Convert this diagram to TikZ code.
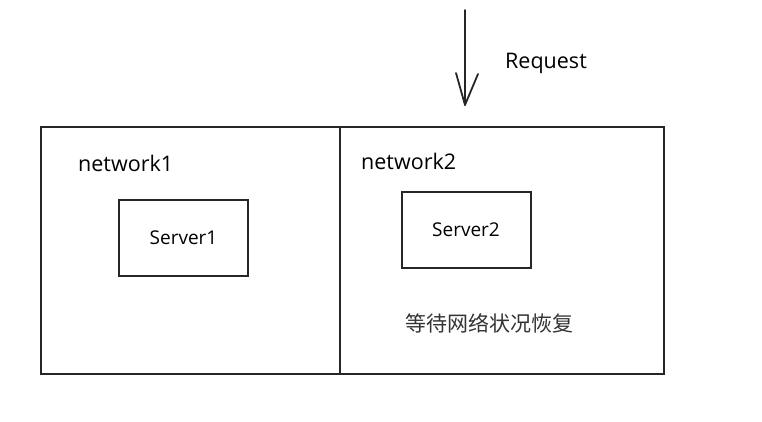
\documentclass[tikz,border=0pt]{standalone}
\usepackage{fontspec}
\setmainfont{Open Sans}
\newfontfamily\cjk{Noto Sans CJK SC}
\begin{document}
\begin{tikzpicture}[x=1pt,y=-1pt,
  net/.style={draw=black!85, line width=2pt},
  srv/.style={draw=black!85, line width=2pt, minimum width=129pt, minimum height=76pt, inner sep=0pt, font=\fontsize{19}{21}\selectfont},
  lbl/.style={font=\fontsize{21.5}{24}\selectfont, inner sep=0pt, anchor=west},
  arr/.style={line width=1.8pt, draw=black!85, line cap=round, line join=round}]
\useasboundingbox (0,0) rectangle (762,422);
\node[net, minimum width=299pt, minimum height=247pt, inner sep=0pt] (n1) at (190.5,250.5) {};
\node[net, minimum width=324pt, minimum height=246pt, inner sep=0pt] (n2) at (502,250.5) {};
\node[lbl] (l1) at (78,163) {network1};
\node[lbl] (l2) at (361,161) {network2};
\node[srv] (s1) at (183.5,238) {Server1};
\node[srv] (s2) at (466,229.5) {Server2};
\node[font=\cjk\fontsize{21}{23}\selectfont, text=black!80, inner sep=0pt] (wait) at (489,323) {等待网络状况恢复};
\coordinate (top) at (465,10);
\coordinate (tip) at (465,105);
\coordinate (barbL) at (456,73);
\coordinate (barbR) at (478,74);
\draw[arr] (top) -- (tip);
\draw[arr] (barbL) -- (tip) -- (barbR);
\node[lbl] (req) at (505,63) {Request};
\end{tikzpicture}
\end{document}
